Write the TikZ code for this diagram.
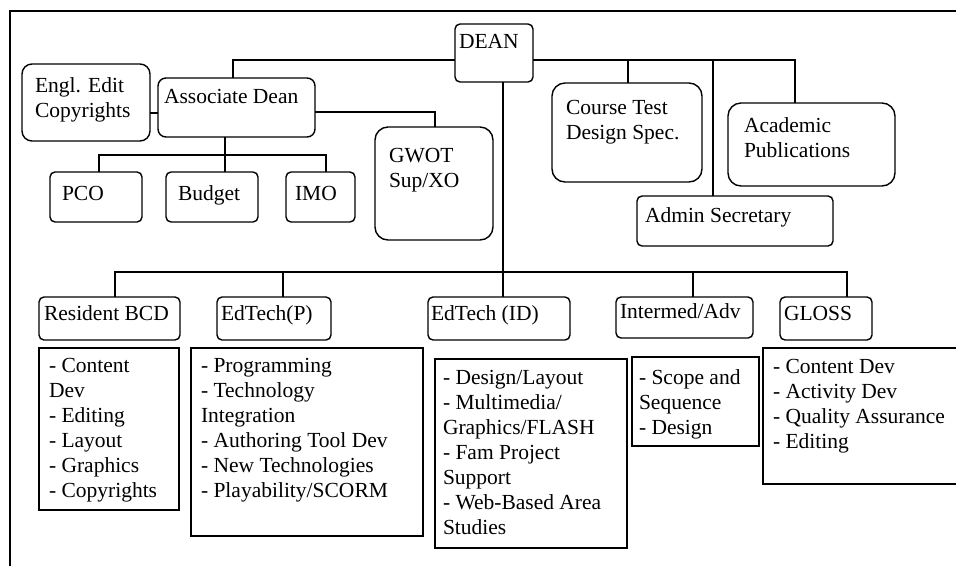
\documentclass[tikz,border=0pt]{standalone}
\usepackage{fontspec}
\setmainfont{Liberation Serif}
\tikzset{
  rbox/.style={draw, line width=1.4pt, rounded corners=5pt, inner sep=0pt, outer sep=0pt, anchor=north west},
  bigbox/.style={rbox, rounded corners=13pt},
  sqbox/.style={draw, line width=1.4pt, sharp corners, inner sep=0pt, outer sep=0pt, anchor=north west},
  txt/.style={anchor=base west, inner sep=0pt, outer sep=0pt, align=left, font=\fontsize{21.5}{25}\selectfont},
  conn/.style={line width=1.4pt},
}
\begin{document}
\begin{tikzpicture}[x=1pt,y=-1pt]
\useasboundingbox (0,0) rectangle (956,566);
% frame
\draw[line width=2pt] (10,566) -- (10,11) -- (960,11);
% boxes
\node[rbox, minimum width=78, minimum height=58] (dean) at (455,24) {};
\node[rbox, rounded corners=10pt, minimum width=128, minimum height=77] (engl) at (22,64) {};
\node[rbox, rounded corners=8pt, minimum width=157, minimum height=59] (assoc) at (158,78) {};
\node[bigbox, minimum width=118, minimum height=113] (gwot) at (375,127) {};
\node[rbox, minimum width=92, minimum height=50] (pco) at (50,172) {};
\node[rbox, minimum width=92, minimum height=50] (budget) at (166,172) {};
\node[rbox, minimum width=69, minimum height=50] (imo) at (286,172) {};
\node[bigbox, minimum width=150, minimum height=99] (course) at (552,83) {};
\node[bigbox, minimum width=167, minimum height=83] (acad) at (728,103) {};
\node[rbox, minimum width=196, minimum height=50] (admin) at (637,196) {};
\node[rbox, minimum width=141, minimum height=43] (rbcd) at (39,297) {};
\node[rbox, minimum width=114, minimum height=43] (etp) at (217,297) {};
\node[rbox, minimum width=142, minimum height=43] (etid) at (428,297) {};
\node[rbox, minimum width=137, minimum height=41] (inter) at (616,297) {};
\node[rbox, minimum width=92, minimum height=43] (gloss) at (780,297) {};
\node[sqbox, minimum width=140, minimum height=162] (d1) at (39,348) {};
\node[sqbox, minimum width=232, minimum height=188] (d2) at (191,348) {};
\node[sqbox, minimum width=192, minimum height=189] (d3) at (435,359) {};
\node[sqbox, minimum width=127, minimum height=89] (d4) at (632,357) {};
\node[sqbox, minimum width=205, minimum height=136] (d5) at (763,348) {};
% texts (anchor = baseline of the last line)
\node[txt] (tdean) at (459,48) {DEAN};
\node[txt] (tengl) at (35,117) {Engl. Edit\\Copyrights};
\node[txt] (tassoc) at (164,103) {Associate Dean};
\node[txt] (tgwot) at (389,187) {GWOT\\Sup/XO};
\node[txt] (tpco) at (62,200) {PCO};
\node[txt] (tbudget) at (178,200) {Budget};
\node[txt] (timo) at (295,200) {IMO};
\node[txt] (tcourse) at (566,139) {Course Test\\Design Spec.};
\node[txt] (tacad) at (744,157) {Academic\\Publications};
\node[txt] (tadmin) at (645,222) {Admin Secretary};
\node[txt] (trbcd) at (44,320) {Resident BCD};
\node[txt] (tetp) at (221,320) {EdTech(P)};
\node[txt] (tetid) at (431,320) {EdTech (ID)};
\node[txt] (tinter) at (620,318) {Intermed/Adv};
\node[txt] (tgloss) at (784,320) {GLOSS};
\node[txt] (td1) at (49,497) {- Content\\Dev\\- Editing\\- Layout\\- Graphics\\- Copyrights};
\node[txt] (td2) at (201,497) {- Programming\\- Technology\\Integration\\- Authoring Tool Dev\\- New Technologies\\- Playability/SCORM};
\node[txt] (td3) at (443,534) {- Design/Layout\\- Multimedia/\\Graphics/FLASH\\- Fam Project\\Support\\- Web-Based Area\\Studies};
\node[txt] (td4) at (639,434) {- Scope and\\Sequence\\- Design};
\node[txt] (td5) at (773,448) {- Content Dev\\- Activity Dev\\- Quality Assurance\\- Editing};
% connector helper coordinates
\coordinate (bus1) at (0,60);
\coordinate (bus2) at (0,272);
\coordinate (bus3) at (0,155);
\coordinate (c1) at ([xshift=76pt]course.north west);
\coordinate (c2) at ([xshift=76pt]admin.north west);
\coordinate (c3) at ([xshift=67pt]acad.north west);
\coordinate (c4) at ([xshift=75pt]assoc.north west);
\coordinate (s) at ([xshift=75pt]etid.north west);
\coordinate (r1) at ([xshift=76pt]rbcd.north west);
\coordinate (p1) at ([xshift=66pt]etp.north west);
\coordinate (i1) at ([xshift=77pt]inter.north west);
\coordinate (g1) at ([xshift=67pt]gloss.north west);
\coordinate (e1) at ([yshift=-35pt]assoc.north west);
\coordinate (a1) at ([yshift=-34pt]assoc.north east);
\coordinate (g2) at ([xshift=60pt]gwot.north west);
\coordinate (a2) at ([xshift=67pt]assoc.south west);
\coordinate (pc) at ([xshift=49pt]pco.north west);
\coordinate (bu) at ([xshift=59pt]budget.north west);
\coordinate (im) at ([xshift=40pt]imo.north west);
% connectors
\draw[conn] (dean.west |- bus1) -- (c4 |- bus1) -- (c4);
\draw[conn] (dean.east |- bus1) -- (c3 |- bus1) -- (c3);
\draw[conn] (c1) -- (c1 |- bus1);
\draw[conn] (c2) -- (c2 |- bus1);
\draw[conn] (s |- dean.south) -- (s);
\draw[conn] (r1) -- (r1 |- bus2) -- (g1 |- bus2) -- (g1);
\draw[conn] (p1) -- (p1 |- bus2);
\draw[conn] (i1) -- (i1 |- bus2);
\draw[conn] (e1) -- (e1 -| engl.east);
\draw[conn] (a1) -- (a1 -| g2) -- (g2);
\draw[conn] (a2) -- (a2 |- bus3);
\draw[conn] (pc) -- (pc |- bus3) -- (im |- bus3) -- (im);
\draw[conn] (bu) -- (bu |- bus3);
\end{tikzpicture}
\end{document}
